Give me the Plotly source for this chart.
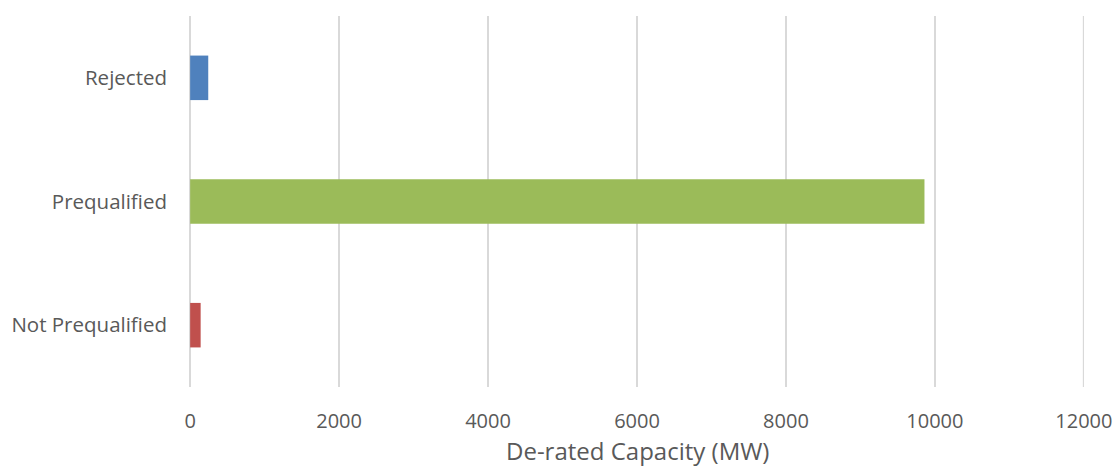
import plotly.graph_objects as go

categories = ["Not Prequalified", "Prequalified", "Rejected"]
values = [141, 9860, 243]
colors = ["#C0504D", "#9BBB59", "#4F81BD"]
x_ticks = [0, 2000, 4000, 6000, 8000, 10000, 12000]
x_title = "De-rated Capacity (MW)"

fig = go.Figure(go.Bar(
    y=categories, x=values, orientation="h",
    marker=dict(color=colors, line=dict(width=0)),
    width=0.36,
))

font_family = "Open Sans, Liberation Sans, sans-serif"
grid_color = "#D9D9D9"
fig.update_layout(
    width=1118, height=468,
    margin=dict(l=190, r=34, t=16, b=81, autoexpand=False),
    paper_bgcolor="white", plot_bgcolor="white",
    showlegend=False,
    font=dict(family=font_family, color="#595959", size=21),
)
fig.update_xaxes(
    range=[-2, 12002], tickvals=x_ticks, ticktext=[str(v) for v in x_ticks],
    showgrid=True, gridcolor=grid_color, gridwidth=2,
    zeroline=True, zerolinecolor=grid_color, zerolinewidth=2,
    showline=False, ticks="",
    ticklabelstandoff=20, automargin=False,
    tickfont=dict(size=20, color="#595959"),
)
fig.update_yaxes(
    categoryorder="array", categoryarray=categories,
    showgrid=False, zeroline=False, showline=False, ticks="",
    ticklabelstandoff=22, automargin=False,
    tickfont=dict(size=20.5, color="#595959"),
)
# gridline at the far end of the value axis (plotly drops the one on the edge)
fig.add_shape(
    type="line", xref="x", yref="paper",
    x0=x_ticks[-1], x1=x_ticks[-1], y0=0, y1=1,
    line=dict(color=grid_color, width=2), layer="below",
)
fig.add_annotation(
    text=x_title, xref="paper", yref="paper", x=0.5, y=-0.17,
    xanchor="center", yanchor="middle", showarrow=False,
    font=dict(size=24, color="#595959", family=font_family),
)

fig.write_html("out.html")
